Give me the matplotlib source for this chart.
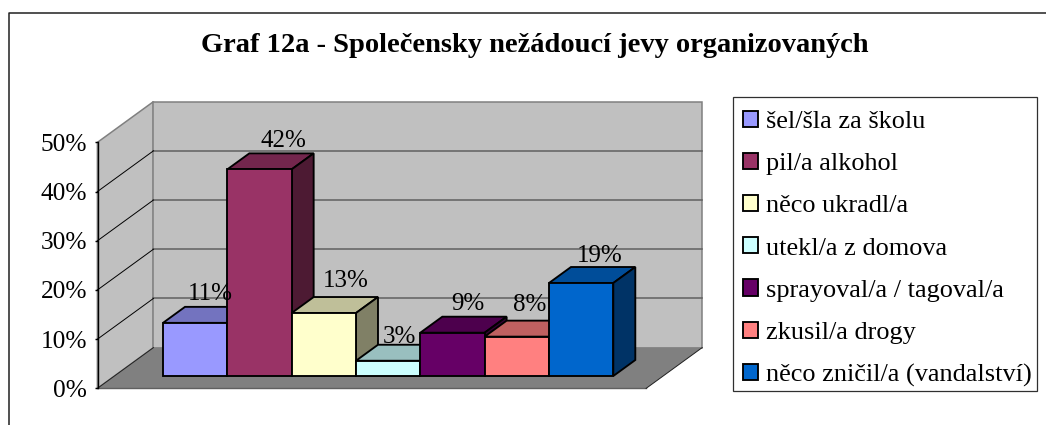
import matplotlib
matplotlib.use("Agg")
import matplotlib.pyplot as plt
from matplotlib.patches import Patch, Polygon, Rectangle
from matplotlib.colors import to_rgb

# ---- data ----
title = "Graf 12a - Společensky nežádoucí jevy organizovaných"
categories = ["šel/šla za školu", "pil/a alkohol", "něco ukradl/a", "utekl/a z domova",
              "sprayoval/a / tagoval/a", "zkusil/a drogy", "něco zničil/a (vandalství)"]
values = [10.8, 42.0, 12.8, 3.1, 8.8, 8.0, 18.9]
value_labels = ["11%", "42%", "13%", "3%", "9%", "8%", "19%"]
colors = ["#9999FF", "#993366", "#FFFFCC", "#CCFFFF", "#660066", "#FF8080", "#0066CC"]
y_ticks = [0, 10, 20, 30, 40, 50]

# ---- style / layout ----
W, H = 1046, 425
plt.rcParams["font.family"] = ["Liberation Serif", "DejaVu Serif"]
fig = plt.figure(figsize=(W / 100, H / 100), dpi=100, facecolor="white")

def frac(left, top, right, bottom):
    return [left / W, 1 - bottom / H, (right - left) / W, (bottom - top) / H]

# Front plane of the bars
ax = fig.add_axes(frac(163, 130, 613.3, 376))
ax.set_xlim(0, len(values))
ax.set_ylim(0, 50)
ax.axis("off")

PX_X = 450.3 / len(values)   # px per category
PX_Y = 246 / 50              # px per percent
DX, DY = 22 / PX_X, 16 / PX_Y  # oblique shift for one bar depth

def P(x, v, d):
    return (x + d * DX, v + d * DY)

D_FRONT, D_BACK = -0.775, 1.775
X_L, X_R = -0.755, 7.775
TOP = y_ticks[-1]

def poly(pts, fc, ec, lw, z, join="miter"):
    ax.add_patch(Polygon(pts, closed=True, facecolor=fc, edgecolor=ec, linewidth=lw,
                         zorder=z, clip_on=False, joinstyle=join))

# walls and floor
poly([P(X_L, 0, D_FRONT), P(X_L, TOP, D_FRONT), P(X_L, TOP, D_BACK), P(X_L, 0, D_BACK)],
     "#C0C0C0", "#808080", 1.1, 1)
poly([P(X_L, 0, D_BACK), P(X_L, TOP, D_BACK), P(X_R, TOP, D_BACK), P(X_R, 0, D_BACK)],
     "#C0C0C0", "#808080", 1.1, 1)
poly([P(X_L, 0, D_FRONT), P(X_L, 0, D_BACK), P(X_R, 0, D_BACK), P(X_R, 0, D_FRONT)],
     "#808080", "none", 0, 2)
ax.plot(*zip(P(X_L, 0, D_FRONT), P(X_R, 0, D_FRONT)), color="#606060", lw=1.0, zorder=2.5,
        clip_on=False)
ax.plot(*zip(P(X_R, 0, D_FRONT), P(X_R, 0, D_BACK)), color="#202020", lw=0.7, zorder=2.5,
        clip_on=False)
ax.plot(*zip(P(X_L, 0, D_FRONT), P(X_L, 0, D_BACK)), color="#202020", lw=0.7, zorder=2.5,
        clip_on=False)
for t in y_ticks[1:-1]:
    ax.plot(*zip(P(X_L, t, D_BACK), P(X_R, t, D_BACK)), color="#606060", lw=1.1, zorder=1.5,
            clip_on=False)
    ax.plot(*zip(P(X_L, t, D_FRONT), P(X_L, t, D_BACK)), color="black", lw=0.7, zorder=1.5,
            clip_on=False)

# bars, painted left to right
LW = 1.35
def shade(c, k):
    return tuple(k * ch for ch in to_rgb(c))

for i, (v, c) in enumerate(zip(values, colors)):
    z = 3 + i
    l, r = i, i + 1
    poly([P(l, v, 0), P(l, v, 1), P(r, v, 1), P(r, v, 0)], shade(c, 0.75), "black", LW, z)
    poly([P(r, 0, 0), P(r, v, 0), P(r, v, 1), P(r, 0, 1)], shade(c, 0.5), "black", LW, z)
    ax.bar(i + 0.5, v, width=1, color=c, edgecolor="black", linewidth=LW, zorder=z + 0.5,
           clip_on=False)

# data labels (px nudges relative to the back-centre of each bar top)
label_dx = [-7, 2, 0, -10.5, -7, -9, -3]
label_dy = [7, 6, 10, 2, 7, 10, 5]
for i, (v, s) in enumerate(zip(values, value_labels)):
    x, y = P(i + 0.5, v, 1)
    ax.annotate(s, (x, y), xytext=(label_dx[i] * 0.72, label_dy[i] * 0.72),
                textcoords="offset points", ha="center", va="baseline",
                fontsize=18, color="black", zorder=30, annotation_clip=False)

# value axis on the front edge of the left wall
ay = fig.add_axes(frac(97.5, 142.3, 98.5, 388.3), facecolor="none")
ay.set_xlim(0, 1)
ay.set_ylim(0, TOP)
ay.set_xticks([])
ay.set_yticks(y_ticks)
ay.set_yticklabels([f"{t}%" for t in y_ticks], fontsize=18.3)
ay.tick_params(axis="y", length=2.5, width=1, pad=5)
for name, sp in ay.spines.items():
    sp.set_visible(name == "left")
    sp.set_linewidth(1)

# legend: frame drawn separately so entries and box can both sit exactly
fig.add_artist(Rectangle((733.3 / W, 1 - 390.7 / H), 304 / W, 294 / H,
                         transform=fig.transFigure, facecolor="white",
                         edgecolor="#303030", linewidth=0.9))
handles = [Patch(facecolor=c, edgecolor="black", linewidth=1.35) for c in colors]
leg = fig.legend(handles, categories, loc="upper left",
                 bbox_to_anchor=(742.7 / W, 1 - 110.5 / H), borderaxespad=0,
                 fontsize=18.9, frameon=False, handlelength=0.57, handleheight=0.57,
                 handletextpad=0.32, labelspacing=0.757, borderpad=0)

# title
fig.text(534.5 / W, 1 - 45 / H, title, ha="center", va="center", fontsize=20.5,
         fontweight="bold", color="black")

# outer chart frame (cut by the image at right and bottom)
fig.add_artist(plt.Line2D([9 / W, 9 / W, 1], [0, 1 - 12.5 / H, 1 - 12.5 / H],
                          color="#202020", lw=1.1))

fig.savefig("out.png", dpi=100)
